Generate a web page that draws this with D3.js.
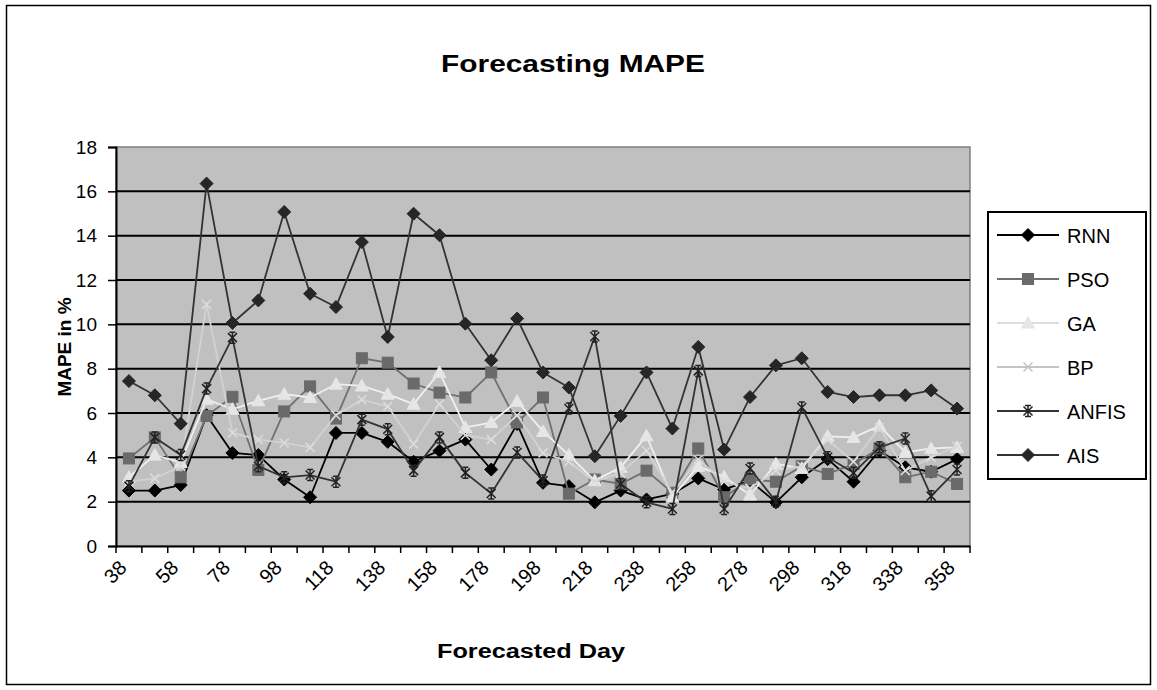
<!DOCTYPE html>
<html><head><meta charset="utf-8">
<script src="https://cdn.jsdelivr.net/npm/d3@7"></script>
<style>
body{margin:0;background:#fff}
svg{display:block}
text{font-family:"Liberation Sans",Arial,sans-serif;fill:#000}
</style>
</head><body>
<svg id="chart" width="1157" height="690"></svg>
<script>
// ---- data ----
const days = [38,48,58,68,78,88,98,108,118,128,138,148,158,168,178,188,198,208,218,228,238,248,258,268,278,288,298,308,318,328,338,348,358];
const rnn   = [2.5,2.5,2.75,5.9,4.2,4.1,3.0,2.2,5.1,5.1,4.7,3.8,4.3,4.8,3.45,5.5,2.85,2.7,1.97,2.5,2.1,2.35,3.05,2.55,2.95,1.97,3.1,3.92,2.9,4.3,3.55,3.35,3.92];
const pso   = [3.95,4.9,3.1,5.87,6.73,3.43,6.07,7.2,5.75,8.47,8.27,7.33,6.92,6.7,7.83,5.57,6.7,2.36,3.0,2.8,3.4,2.4,4.4,2.2,3.0,2.9,3.6,3.25,3.7,4.4,3.1,3.35,2.8];
const ga    = [3.1,4.1,3.77,6.62,6.17,6.55,6.85,6.7,7.3,7.22,6.85,6.4,7.83,5.35,5.57,6.53,5.17,4.1,2.95,3.55,4.97,2.2,3.6,3.12,2.3,3.7,3.5,4.95,4.9,5.42,4.22,4.4,4.45];
const bp    = [2.9,3.05,3.6,10.9,5.1,4.8,4.65,4.45,5.9,6.6,6.3,4.6,6.4,5.0,4.8,5.9,4.2,3.8,2.9,3.3,4.3,2.4,3.9,2.9,2.6,3.4,3.6,4.8,3.8,5.35,3.4,4.0,4.5];
const anfis = [2.7,4.9,4.1,7.1,9.4,3.6,3.1,3.2,2.9,5.7,5.27,3.4,4.9,3.3,2.37,4.22,2.95,6.2,9.45,2.8,1.97,1.67,7.9,1.67,3.5,2.0,6.25,4.0,3.3,4.45,4.85,2.25,3.45];
const ais   = [7.44,6.8,5.52,16.35,10.06,11.08,15.07,11.38,10.78,13.71,9.43,14.99,14.02,10.03,8.38,10.26,7.83,7.15,4.05,5.87,7.83,5.3,8.98,4.35,6.72,8.15,8.47,6.95,6.72,6.8,6.8,7.02,6.2];
const seriesNames = ["RNN","PSO","GA","BP","ANFIS","AIS"];
const yTicks = [0,2,4,6,8,10,12,14,16,18];
const xTickLabels = [38,58,78,98,118,138,158,178,198,218,238,258,278,298,318,338,358];
const titleText = "Forecasting MAPE";
const xTitle = "Forecasted Day";
const yTitle = "MAPE in %";

// ---- styles ----
const styles = {
  RNN:   {line:"#000000", fill:"#000000", stroke:"#000000", marker:"diamond"},
  PSO:   {line:"#707070", fill:"#6a6a6a", stroke:"#6a6a6a", marker:"square"},
  GA:    {line:"#f0f0f0", fill:"#e6e6e6", stroke:"#e6e6e6", marker:"triangle"},
  BP:    {line:"#d2d2d2", fill:"none",    stroke:"#dcdcdc", marker:"x"},
  ANFIS: {line:"#333333", fill:"none",    stroke:"#222222", marker:"star"},
  AIS:   {line:"#333333", fill:"#262626", stroke:"#262626", marker:"diamond"}
};
const valuesBySeries = {RNN:rnn, PSO:pso, GA:ga, BP:bp, ANFIS:anfis, AIS:ais};

const svg = d3.select("#chart");
const L = 116, R = 970, T = 147, B = 546;
const x = d3.scaleBand().domain(days).range([L, R]).paddingInner(0).paddingOuter(0);
const cx = d => x(d) + x.bandwidth()/2;
const y = d3.scaleLinear().domain([0,18]).range([B, T]);

// outer border
svg.append("rect").attr("x",6.5).attr("y",5.5).attr("width",1144).attr("height",679)
  .attr("fill","#fff").attr("stroke","#000").attr("stroke-width",1.5);

// title
svg.append("text").attr("x",573).attr("y",72).attr("text-anchor","middle")
  .attr("font-size",23).attr("font-weight","bold")
  .attr("textLength",264).attr("lengthAdjust","spacingAndGlyphs").text(titleText);

// plot background
svg.append("rect").attr("x",L).attr("y",T).attr("width",R-L).attr("height",B-T)
  .attr("fill","#c0c0c0").attr("stroke","#808080").attr("stroke-width",1.5);

// gridlines
svg.append("g").selectAll("line").data(yTicks.filter(t => t>0 && t<18)).join("line")
  .attr("x1",L).attr("x2",R).attr("y1",d=>y(d)).attr("y2",d=>y(d))
  .attr("stroke","#000").attr("stroke-width",2);

// y axis
const yAxis = d3.axisLeft(y).tickValues(yTicks).tickSize(8).tickPadding(11);
const gy = svg.append("g").attr("transform",`translate(${L},0)`).call(yAxis);
gy.select(".domain").attr("stroke","#000").attr("stroke-width",2);
gy.selectAll(".tick line").attr("stroke","#000").attr("stroke-width",1.5);
gy.selectAll(".tick text").attr("font-size",19).attr("font-family","Liberation Sans, Arial, sans-serif")
  .attr("fill","#000");

// x axis
const xAxis = d3.axisBottom(x).tickValues([]).tickSize(0);
const gx = svg.append("g").attr("transform",`translate(0,${B})`).call(xAxis);
gx.select(".domain").attr("stroke","#000").attr("stroke-width",2);
// tick marks at category boundaries
const bounds = days.map(d => x(d)).concat([R]);
svg.append("g").selectAll("line").data(bounds).join("line")
  .attr("x1",d=>d).attr("x2",d=>d).attr("y1",B).attr("y2",B+7)
  .attr("stroke","#000").attr("stroke-width",1.5);
// rotated labels
svg.append("g").selectAll("text").data(xTickLabels).join("text")
  .attr("text-anchor","end").attr("font-size",20)
  .attr("transform", d => `translate(${cx(d)-1},${569}) rotate(-45)`)
  .text(d => d);

// axis titles
svg.append("text").attr("x",531).attr("y",658).attr("text-anchor","middle")
  .attr("font-size",20).attr("font-weight","bold")
  .attr("textLength",188).attr("lengthAdjust","spacingAndGlyphs").text(xTitle);
svg.append("text").attr("transform","translate(71,347) rotate(-90)").attr("text-anchor","middle")
  .attr("font-size",19).attr("font-weight","bold").text(yTitle);

// marker drawing
function drawMarker(g, type, st, scale) {
  const s = scale || 1;
  if (type === "diamond") {
    g.append("path").attr("d",`M0,${-6.5*s}L${6.5*s},0L0,${6.5*s}L${-6.5*s},0Z`).attr("fill",st.fill).attr("stroke",st.stroke).attr("stroke-width",1);
  } else if (type === "square") {
    g.append("rect").attr("x",-5.5*s).attr("y",-5.5*s).attr("width",11*s).attr("height",11*s).attr("fill",st.fill).attr("stroke",st.stroke);
  } else if (type === "triangle") {
    g.append("path").attr("d",`M0,${-6.5*s}L${6.5*s},${5*s}L${-6.5*s},${5*s}Z`).attr("fill",st.fill).attr("stroke",st.stroke);
  } else if (type === "x") {
    g.append("path").attr("d",`M${-4.5*s},${-4.5*s}L${4.5*s},${4.5*s}M${4.5*s},${-4.5*s}L${-4.5*s},${4.5*s}`).attr("stroke",st.stroke).attr("stroke-width",1.5).attr("fill","none");
  } else if (type === "star") {
    g.append("path").attr("d",`M${-4.5*s},${-4.5*s}L${4.5*s},${4.5*s}M${4.5*s},${-4.5*s}L${-4.5*s},${4.5*s}M0,${-5.5*s}L0,${5.5*s}M${-3*s},${-5.5*s}L${3*s},${-5.5*s}M${-3*s},${5.5*s}L${3*s},${5.5*s}`).attr("stroke",st.stroke).attr("stroke-width",1.5).attr("fill","none");
  }
}

// series
const gSeries = svg.append("g");
const line = d3.line().x((v,i)=>cx(days[i])).y(v=>y(v));
seriesNames.forEach(name => {
  const st = styles[name];
  const vals = valuesBySeries[name];
  const g = gSeries.append("g");
  g.append("path").datum(vals).attr("d",line).attr("fill","none")
    .attr("stroke",st.line).attr("stroke-width",1.8).attr("stroke-linejoin","round");
  g.selectAll("g.m").data(vals).join("g").attr("class","m")
    .attr("transform",(v,i)=>`translate(${cx(days[i])},${y(v)})`)
    .each(function(){ drawMarker(d3.select(this), st.marker, st); });
});

// legend
const lg = svg.append("g");
lg.append("rect").attr("x",988).attr("y",212).attr("width",158).attr("height",267)
  .attr("fill","#fff").attr("stroke","#000").attr("stroke-width",2);
const ly = d3.scalePoint().domain(seriesNames).range([235,455]);
seriesNames.forEach(name => {
  const st = styles[name];
  const yy = ly(name);
  const lineCol = name==="GA" ? "#dddddd" : (name==="BP" ? "#c4c4c4" : st.line);
  lg.append("line").attr("x1",997).attr("x2",1059).attr("y1",yy).attr("y2",yy)
    .attr("stroke",lineCol).attr("stroke-width",1.8);
  const mg = lg.append("g").attr("transform",`translate(1028,${yy})`);
  const mst = name==="BP" ? {fill:"none",stroke:"#c4c4c4"} : st;
  drawMarker(mg, st.marker, mst);
  lg.append("text").attr("x",1067).attr("y",yy+7.5).attr("font-size",20).text(name);
});
</script>
</body></html>
